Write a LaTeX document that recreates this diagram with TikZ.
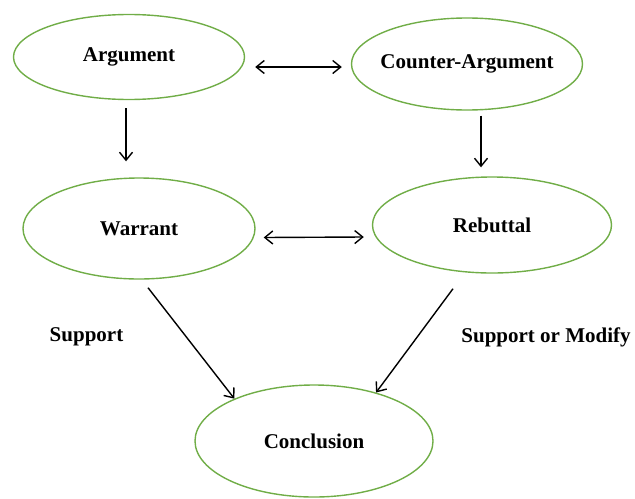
\documentclass[tikz,border=0pt]{standalone}
\usepackage{fontspec}
\setmainfont{Liberation Serif}
\usepackage{tikz}
\usetikzlibrary{arrows.meta,shapes}
\definecolor{claimgreen}{RGB}{112,173,71}
\tikzstyle{claim}=[ellipse,draw=claimgreen,line width=0.7pt,inner xsep=-8pt,inner ysep=0pt,font=\fontsize{10.5}{12}\selectfont\bfseries]
\tikzstyle{edge} = [draw,line width=0.7pt,>={Straight Barb[length=4pt,width=6.5pt]},->]
\tikzstyle{note} = [font=\fontsize{10.5}{12}\selectfont\bfseries]

\begin{document}
\begin{tikzpicture}[x=0.5pt,y=-0.5pt]
    \useasboundingbox (0,0) rectangle (635,498);
    % Draw the claims
    \foreach \pos/\name/\txt/\xr/\yr in {{(129,57)/arg/Argument/115.5/42.5},
                            {(467,64)/counter/Counter-Argument/115.5/46},
                            {(139,228.5)/warrant/Warrant/116/50.5},
                            {(492,225)/rebuttal/Rebuttal/119.5/48},
                            {(314,441)/concl/Conclusion/119/56}}
        \node[claim, minimum width=\xr pt, minimum height=\yr pt] (\name) at \pos {\txt};
    % Labels beside the lower arrows
    \node[note] (supportlbl) at (86.5,337) {Support};
    \node[note] (modifylbl) at (546,337) {Support or Modify};
    % Connect the claims
    \path[edge,<->] ([xshift=5pt,yshift=-5pt]arg.east) -- ([xshift=-4.5pt,yshift=-1.5pt]counter.west);
    \path[edge] ([xshift=-1.5pt,yshift=-4pt]arg.south) -- ([xshift=-6.5pt,yshift=8pt]warrant.north);
    \path[edge] ([xshift=7pt,yshift=-2.5pt]counter.south) -- ([xshift=-5.5pt,yshift=4.5pt]rebuttal.north);
    \path[edge,<->] ([xshift=4pt,yshift=-4.5pt]warrant.east) -- ([xshift=-4pt,yshift=-6pt]rebuttal.west);
    \path[edge] ([xshift=4.5pt,yshift=-4pt]warrant.south) -- (concl.152);
    \path[edge] ([xshift=-19.5pt,yshift=-7.5pt]rebuttal.south) -- (concl.38);
\end{tikzpicture}
\end{document}
